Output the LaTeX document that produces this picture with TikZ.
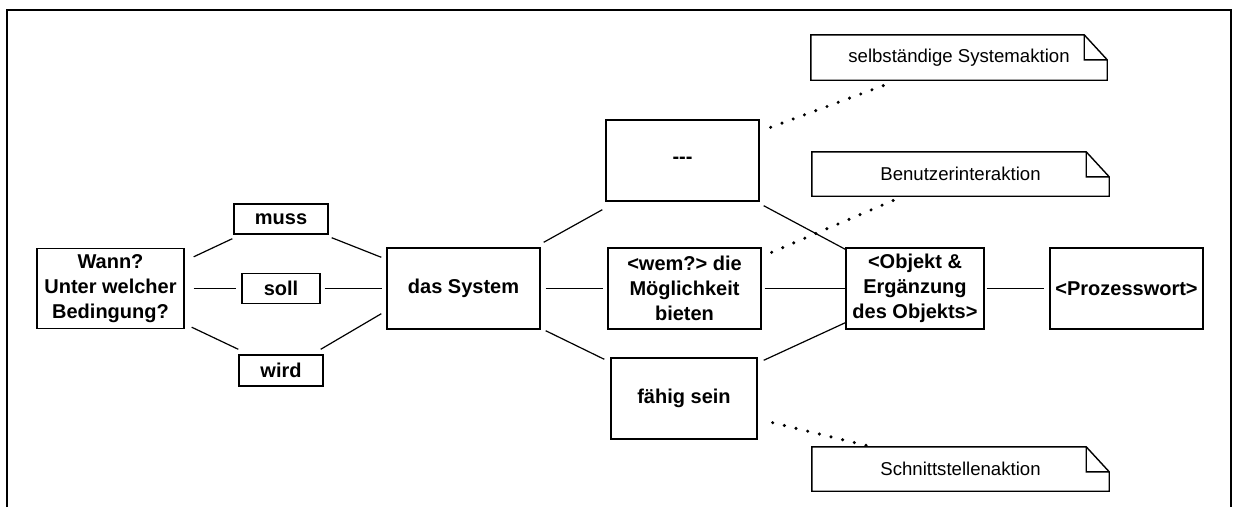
\documentclass[tikz,border=0pt]{standalone}
\usepackage{fontspec}
\setmainfont{Liberation Sans}
\begin{document}
\begin{tikzpicture}[x=1pt,y=-1pt,
	box/.style={draw, line width=1.4pt, inner sep=2pt, align=center, font=\fontsize{20}{25}\selectfont\bfseries},
	bigbox/.style={box, minimum width=153pt, minimum height=81pt},
	notebox/.style={inner sep=0pt, minimum width=297pt, minimum height=44pt, font=\fontsize{18.6}{22}\selectfont},
	link/.style={line width=1.2pt},
	dotlink/.style={line width=3.4pt, line cap=round, dash pattern=on 0pt off 12pt}]
	\useasboundingbox (0,0) rectangle (1233,507);
	\draw [line width=2pt] (7,507) -- (7,10) -- (1231,10) -- (1231,507);
	% Satzschablone
	\node [box, minimum width=147pt, minimum height=80pt] (wann) at (110.5,288.5) {Wann?\\Unter welcher\\Bedingung?};
	\node [box, minimum width=94pt, minimum height=30pt] (muss) at (281,219) {muss};
	\node [box, minimum width=78pt, minimum height=30pt] (soll) at (281,288.5) {soll};
	\node [box, minimum width=84pt, minimum height=31pt] (wird) at (281,370.5) {wird};
	\node [bigbox] (sys) at (463.5,288.5) {das System};
	\node [bigbox] (dash) at (682.5,160.5) {-\kern0pt-\kern0pt-};
	\node [bigbox] (wem) at (684.5,288.5) {<wem?> die\\Möglichkeit\\bieten};
	\node [bigbox, minimum width=146pt] (faehig) at (684,398.5) {fähig sein};
	\node [bigbox, minimum width=138pt] (obj) at (915,288.5) {<Objekt \&\\Ergänzung\\des Objekts>};
	\node [bigbox] (proz) at (1126.5,288.5) {<Prozesswort>};
	% Notizen
	\node [notebox, minimum width=296pt, minimum height=45pt] (note1) at (959,57.5) {selbständige Systemaktion};
	\node [notebox] (note2) at (960.5,174) {Benutzerinteraktion};
	\node [notebox] (note3) at (960.5,469) {Schnittstellenaktion};
	\foreach \n in {note1,note2,note3}
		\draw [line width=1.4pt] (\n.south west) -- (\n.north west) -- ([xshift=-23pt]\n.north east) -- ([yshift=-25pt]\n.north east) -- (\n.south east) -- cycle
			([xshift=-23pt]\n.north east) |- ([yshift=-25pt]\n.north east);
	% Verbindungen
	\draw [link] ([shift={(9,9)}]wann.north east) -- ([shift={(-1,4)}]muss.south west);
	\draw [link] ([shift={(3,3)}]muss.south east) -- ([shift={(-5,10)}]sys.north west);
	\draw [link, shorten <=9pt, shorten >=5pt] (wann) -- (soll);
	\draw [link, shorten <=4pt, shorten >=4pt] (soll) -- (sys);
	\draw [link] ([shift={(7,-2)}]wann.south east) -- ([shift={(0,-5)}]wird.north west);
	\draw [link] ([shift={(-3,-5)}]wird.north east) -- ([shift={(-5,-16)}]sys.south west);
	\draw [link] ([shift={(3,-5)}]sys.north east) -- ([shift={(-3,8)}]dash.south west);
	\draw [link, shorten <=5pt, shorten >=4pt] (sys) -- (wem);
	\draw [link] ([shift={(5,1)}]sys.south east) -- ([shift={(-6,2)}]faehig.north west);
	\draw [link] ([shift={(4,4)}]dash.south east) -- ([shift={(0,2)}]obj.north west);
	\draw [link, shorten <=3pt] (wem) -- (obj);
	\draw [link] ([shift={(6,3)}]faehig.north east) -- ([shift={(0,-7)}]obj.south west);
	\draw [link, shorten <=2pt, shorten >=5pt] (obj) -- (proz);
	%\draw [link] (dash) -- (note1);
	\draw [dotlink] ([shift={(11,8)}]dash.north east) -- ([shift={(79,3)}]note1.south west);
	\draw [dotlink] ([shift={(10,5)}]wem.north east) -- ([shift={(89,1)}]note2.south west);
	\draw [dotlink] ([shift={(15,-17)}]faehig.south east) -- ([shift={(60,0)}]note3.north west);
\end{tikzpicture}
\end{document}
